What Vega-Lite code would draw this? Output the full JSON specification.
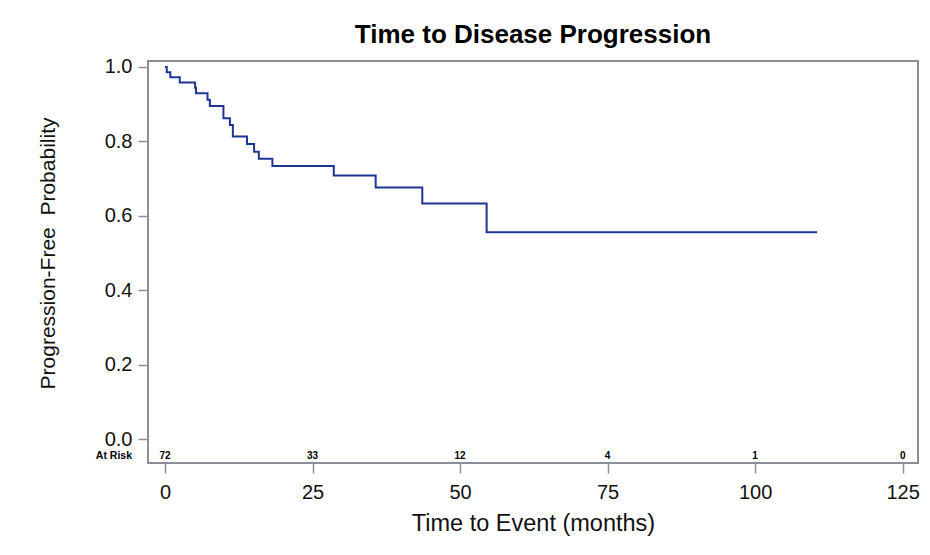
{
  "$schema": "https://vega.github.io/schema/vega-lite/v6.json",
  "autosize": {"type": "none"},
  "padding": {"left": 148, "top": 61, "right": 12, "bottom": 92},
  "width": 770,
  "height": 402,
  "background": "white",
  "config": {
    "font": "Liberation Sans",
    "view": {"stroke": "#8a8f99", "strokeWidth": 2}
  },
  "title": {
    "text": "Time to Disease Progression",
    "font": "Liberation Sans",
    "fontSize": 26,
    "fontWeight": "bold",
    "color": "black",
    "anchor": "middle",
    "offset": 9
  },
  "datasets": {
    "km": [
      {"t": 0, "s": 1.0},
      {"t": 0.3, "s": 0.986},
      {"t": 0.9, "s": 0.972},
      {"t": 2.5, "s": 0.958},
      {"t": 5.1, "s": 0.944},
      {"t": 5.25, "s": 0.929},
      {"t": 7.2, "s": 0.912},
      {"t": 7.6, "s": 0.895},
      {"t": 9.9, "s": 0.862},
      {"t": 11.0, "s": 0.844},
      {"t": 11.5, "s": 0.813},
      {"t": 13.9, "s": 0.793},
      {"t": 15.1, "s": 0.772},
      {"t": 15.9, "s": 0.753},
      {"t": 18.2, "s": 0.734},
      {"t": 28.6, "s": 0.708},
      {"t": 35.7, "s": 0.676},
      {"t": 43.6, "s": 0.633},
      {"t": 54.5, "s": 0.556},
      {"t": 110.5, "s": 0.556}
    ],
    "risk": [
      {"t": 0, "n": "72"},
      {"t": 25, "n": "33"},
      {"t": 50, "n": "12"},
      {"t": 75, "n": "4"},
      {"t": 100, "n": "1"},
      {"t": 125, "n": "0"}
    ]
  },
  "layer": [
    {
      "data": {"name": "km"},
      "mark": {"type": "line", "interpolate": "step-after", "color": "#1f3594", "strokeWidth": 2},
      "encoding": {
        "x": {
          "field": "t", "type": "quantitative",
          "scale": {"domain": [-2.88, 127.6], "nice": false, "zero": false},
          "axis": {
            "values": [0, 25, 50, 75, 100, 125],
            "title": "Time to Event (months)",
            "titleFontSize": 23.5, "titleFontWeight": "normal", "titleColor": "#111",
            "titlePadding": 9,
            "labelFontSize": 20, "labelColor": "#111", "labelPadding": 9,
            "tickSize": 10, "tickColor": "#8a8f99", "tickWidth": 1.5,
            "domain": false, "grid": false, "offset": 0
          }
        },
        "y": {
          "field": "s", "type": "quantitative",
          "scale": {"domain": [-0.0645, 1.016], "nice": false, "zero": false},
          "axis": {
            "values": [0, 0.2, 0.4, 0.6, 0.8, 1.0],
            "format": ".1f",
            "title": "Progression-Free\u00a0 Probability",
            "titleFontSize": 21, "titleFontWeight": "normal", "titleColor": "#111",
            "titlePadding": 46, "titleY": 192,
            "labelFontSize": 20, "labelColor": "#111", "labelPadding": 6,
            "tickSize": 10, "tickColor": "#8a8f99", "tickWidth": 1.5,
            "domain": false, "grid": false
          }
        }
      }
    },
    {
      "mark": {"type": "rule", "color": "#8a8f99", "strokeWidth": 2},
      "encoding": {"y": {"datum": -0.0108}}
    },
    {
      "data": {"name": "risk"},
      "mark": {"type": "text", "fontSize": 10, "fontWeight": "bold", "color": "black", "baseline": "middle"},
      "encoding": {
        "x": {"field": "t", "type": "quantitative"},
        "y": {"datum": -0.0457},
        "text": {"field": "n"}
      }
    },
    {
      "data": {"values": [{"t": -2.88, "lab": "At Risk"}]},
      "mark": {"type": "text", "fontSize": 10.5, "fontWeight": "bold", "color": "black", "baseline": "middle", "align": "right", "dx": -16, "clip": false},
      "encoding": {
        "x": {"field": "t", "type": "quantitative"},
        "y": {"datum": -0.0457},
        "text": {"field": "lab"}
      }
    }
  ]
}
